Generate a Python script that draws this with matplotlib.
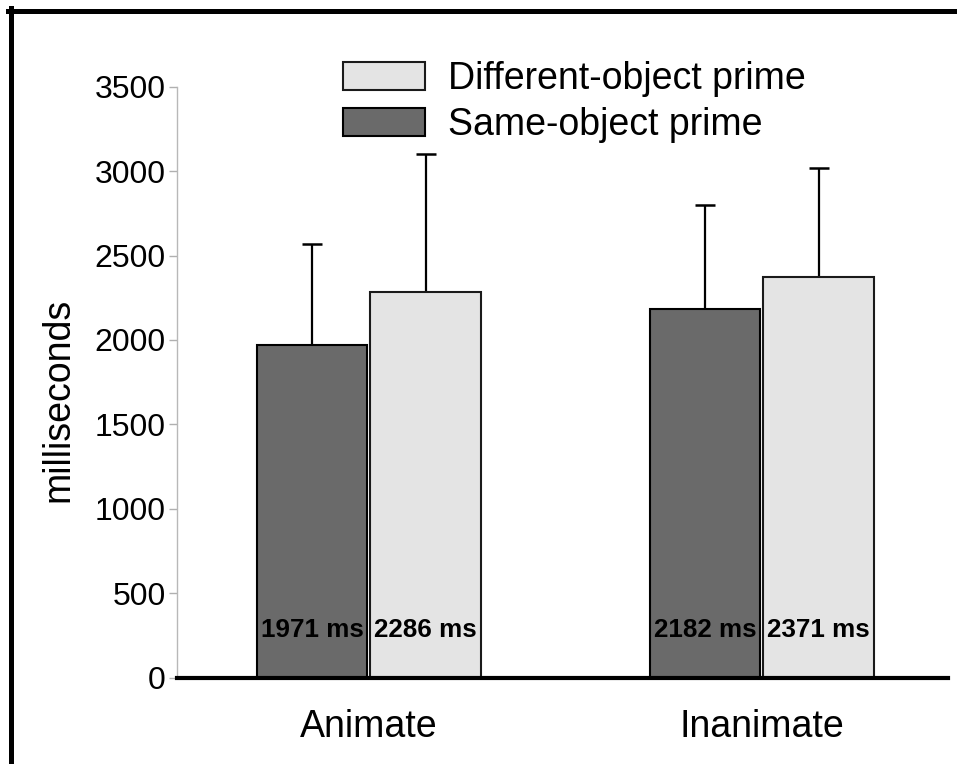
import numpy as np
import matplotlib
matplotlib.use("Agg")
import matplotlib.pyplot as plt
from matplotlib.lines import Line2D

plt.rcParams["font.family"] = ["Liberation Sans", "DejaVu Sans"]

# values
categories = ["Animate", "Inanimate"]
same_ms = [1971, 2182]
diff_ms = [2286, 2371]
same_sd = [600, 620]
diff_sd = [817, 645]
series_labels = ["Same-object prime", "Different-object prime"]
y_ticks = [0, 500, 1000, 1500, 2000, 2500, 3000, 3500]

DARK = "#6a6a6a"
LIGHT = "#e4e4e4"
W, H = 957, 764

fig = plt.figure(figsize=(W / 100, H / 100), dpi=100)
ax = fig.add_axes([177 / W, 1 - 677.5 / H, (948 - 177) / W, (677.5 - 86.7) / H])

x = np.arange(len(categories))
bw = 0.281
off = 0.1445

dark_bars = ax.bar(x - off, same_ms, bw, color=DARK, edgecolor="black", linewidth=1.5,
                   label=series_labels[0], zorder=2)
light_bars = ax.bar(x + off, diff_ms, bw, color=LIGHT, edgecolor="#1a1a1a", linewidth=1.5,
                    label=series_labels[1], zorder=2)

ax.errorbar(x - off, same_ms, yerr=[np.zeros(len(x)), same_sd], fmt="none",
            ecolor="black", elinewidth=1.6, capsize=7, capthick=1.8, zorder=1)
ax.errorbar(x + off, diff_ms, yerr=[np.zeros(len(x)), diff_sd], fmt="none",
            ecolor="black", elinewidth=1.6, capsize=7, capthick=1.8, zorder=1)

for xi, v in zip(x - off, same_ms):
    ax.text(xi, 240, f"{v} ms", ha="center", va="baseline", fontsize=18.7, fontweight="bold", zorder=3)
for xi, v in zip(x + off, diff_ms):
    ax.text(xi, 240, f"{v} ms", ha="center", va="baseline", fontsize=18.7, fontweight="bold", zorder=3)

ax.set_xlim(-0.488, 1.474)
ax.set_ylim(0, 3500)
ax.set_yticks(y_ticks)
ax.set_xticks(x)
ax.set_xticklabels(categories, fontsize=27)
ax.tick_params(axis="x", length=0, pad=23)
ax.tick_params(axis="y", labelsize=23, length=6, width=1, color="#b0b0b0", pad=2)

for side in ["top", "right"]:
    ax.spines[side].set_visible(False)
ax.spines["left"].set_color("#b8b8b8")
ax.spines["left"].set_linewidth(1)
ax.spines["bottom"].set_color("black")
ax.spines["bottom"].set_linewidth(3)
ax.spines["bottom"].set_zorder(4)

fig.text(58 / W, 1 - 400 / H, "milliseconds", rotation=90, ha="center", va="center", fontsize=27)

fig.legend(handles=[light_bars, dark_bars], labels=[series_labels[1], series_labels[0]],
           loc="upper left", bbox_to_anchor=(343 / W, 1 - 61 / H), frameon=False,
           fontsize=27, borderpad=0, borderaxespad=0, handlelength=2.19, handleheight=0.8,
           handletextpad=0.61, labelspacing=0.27)

# partial black frame around the figure (left and top edges)
fig.add_artist(Line2D([10.5 / W, 10.5 / W], [0, 1 - 8 / H], color="black", linewidth=3.6))
fig.add_artist(Line2D([8 / W, 1], [1 - 10.5 / H, 1 - 10.5 / H], color="black", linewidth=3.6))

fig.savefig("out.png", dpi=100)
